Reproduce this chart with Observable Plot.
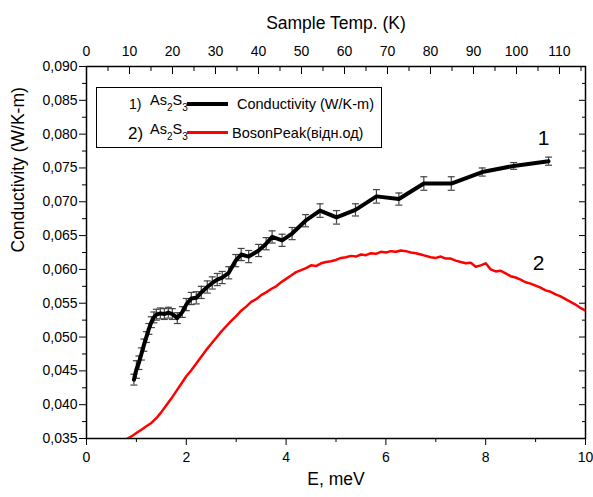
<!DOCTYPE html>
<html><head><meta charset="utf-8">
<script src="https://cdn.jsdelivr.net/npm/d3@7"></script>
<script src="https://cdn.jsdelivr.net/npm/@observablehq/plot@0.6"></script>
<style>
body{margin:0;background:#fff;}
#wrap{position:relative;width:593px;height:497px;font-family:"Liberation Sans",Arial,sans-serif;}
#legend{position:absolute;left:96px;top:87px;width:284px;height:59px;border:1px solid #000;background:#fff;}
.it{position:absolute;transform:translateY(-50%);line-height:1;white-space:nowrap;color:#000;}
.it sub{font-size:10px;vertical-align:-6px;}
.sw{position:absolute;left:90px;width:41px;}
</style></head><body><div id="wrap"></div>
<script>
// Curve 1: conductivity with error bars
const condE = [0.95,1.0,1.05,1.1,1.15,1.2,1.25,1.3,1.35,1.4,1.48,1.56,1.64,1.72,1.82,1.92,2.0,2.1,2.2,2.3,2.42,2.52,2.62,2.72,2.85,2.99,3.1,3.25,3.45,3.6,3.72,3.92,4.12,4.39,4.68,5.01,5.39,5.81,6.26,6.76,7.31,7.93,8.56,9.26];
const condY = [0.0437,0.0452,0.0462,0.0475,0.0488,0.0500,0.0512,0.0522,0.0529,0.0533,0.0535,0.0534,0.0536,0.0534,0.0528,0.0537,0.0548,0.0557,0.0558,0.0566,0.0574,0.0580,0.0585,0.0588,0.0595,0.0613,0.0622,0.0619,0.0628,0.0638,0.0648,0.0643,0.0653,0.0672,0.0687,0.0677,0.0688,0.0708,0.0704,0.0727,0.0727,0.0744,0.0753,0.0760];
const condErr = [0.0008,0.0013,0.0010,0.0009,0.0009,0.0008,0.0008,0.0008,0.0008,0.0008,0.0008,0.0008,0.0008,0.0008,0.0008,0.0008,0.0009,0.0009,0.0009,0.0009,0.0009,0.0009,0.0009,0.0009,0.0009,0.0009,0.0009,0.0009,0.0009,0.0009,0.0009,0.0009,0.0009,0.0009,0.0010,0.0010,0.0009,0.0010,0.0009,0.0010,0.0010,0.0006,0.0005,0.0006];
// Curve 2: boson peak
const bosonE = [0.82,0.9,1.0,1.1,1.2,1.3,1.4,1.5,1.6,1.7,1.8,1.9,2.0,2.1,2.2,2.3,2.4,2.5,2.6,2.7,2.8,2.9,3.0,3.1,3.2,3.3,3.4,3.5,3.6,3.7,3.8,3.9,4.0,4.1,4.2,4.3,4.4,4.5,4.6,4.7,4.8,4.9,5.0,5.1,5.2,5.3,5.4,5.5,5.6,5.7,5.8,5.9,6.0,6.1,6.2,6.3,6.4,6.5,6.6,6.7,6.8,6.9,7.0,7.1,7.2,7.3,7.4,7.5,7.6,7.7,7.8,7.9,8.0,8.1,8.2,8.3,8.4,8.5,8.6,8.7,8.8,8.9,9.0,9.1,9.2,9.3,9.4,9.5,9.6,9.7,9.8,9.9,10.0];
const bosonY = [0.0350,0.0353,0.0358,0.0363,0.0368,0.0373,0.0380,0.0389,0.0399,0.0409,0.0420,0.0431,0.0442,0.0451,0.0461,0.0471,0.0481,0.0490,0.0499,0.0508,0.0516,0.0524,0.0531,0.0539,0.0545,0.0552,0.0556,0.0562,0.0566,0.0571,0.0575,0.0581,0.0586,0.0591,0.0596,0.0599,0.0602,0.0606,0.0605,0.0609,0.0611,0.0612,0.0614,0.0617,0.0618,0.0620,0.0619,0.0622,0.0621,0.0624,0.0623,0.0626,0.0625,0.0627,0.0626,0.0628,0.0627,0.0625,0.0624,0.0622,0.0620,0.0618,0.0617,0.0619,0.0616,0.0616,0.0613,0.0611,0.0609,0.0610,0.0604,0.0606,0.0609,0.0600,0.0597,0.0598,0.0594,0.0590,0.0588,0.0585,0.0581,0.0579,0.0576,0.0573,0.0569,0.0567,0.0563,0.0560,0.0556,0.0552,0.0548,0.0543,0.0539];
// Ticks
const xTicks = [0,2,4,6,8,10];
const xMinor = [1,3,5,7,9];
const tempTicks = [0,10,20,30,40,50,60,70,80,90,100,110];
const tempMinor = [5,15,25,35,45,55,65,75,85,95,105,115];
const yTicks = [0.035,0.040,0.045,0.050,0.055,0.060,0.065,0.070,0.075,0.080,0.085,0.090];
const yMinor = [0.0375,0.0425,0.0475,0.0525,0.0575,0.0625,0.0675,0.0725,0.0775,0.0825,0.0875];
const K_PER_MEV = 11.605;
// Curve labels
const curveLabels = ["1","2"];
const curveLabelE = [9.16,9.06];
const curveLabelY = [0.0794,0.0609];

const cond = condE.map((E,i)=>({E, y:condY[i], e:condErr[i]}));
const boson = bosonE.map((E,i)=>({E, y:bosonY[i]}));
const labels = curveLabels.map((t,i)=>({t, E:curveLabelE[i], y:curveLabelY[i]}));
const fmtY = d => d3.format(".3f")(d).replace(".", ",");
const cap = {draw(ctx, size){const h=Math.sqrt(size/Math.PI); ctx.moveTo(-h,0); ctx.lineTo(h,0);}};
const blank = () => "";

const chart = Plot.plot({
  width:593, height:497,
  marginLeft:86, marginRight:8, marginTop:66, marginBottom:59,
  x:{domain:[0,10]},
  y:{domain:[0.035,0.090]},
  style:{fontFamily:'"Liberation Sans",Arial,sans-serif', fontSize:"14px", color:"#000", background:"#fff", overflow:"visible"},
  marks:[
    // left axis
    Plot.axisY({anchor:"left", ticks:yTicks, tickSize:7, tickFormat:blank, label:null}),
    Plot.axisY({anchor:"left", ticks:yTicks, tickSize:0, tickPadding:9, tickFormat:fmtY, label:null, fontSize:14}),
    Plot.axisY({anchor:"left", ticks:yMinor, tickSize:4, tickFormat:blank, label:null}),
    // right axis (inward)
    Plot.axisY({anchor:"right", ticks:yTicks, tickSize:7, insetRight:7, tickFormat:blank, label:null}),
    Plot.axisY({anchor:"right", ticks:yMinor, tickSize:4, insetRight:4, tickFormat:blank, label:null}),
    // bottom axis
    Plot.axisX({anchor:"bottom", ticks:xTicks, tickSize:7, tickFormat:blank, label:null}),
    Plot.axisX({anchor:"bottom", ticks:xTicks, tickSize:0, tickPadding:14, tickFormat:d=>String(d), label:null, fontSize:14}),
    Plot.axisX({anchor:"bottom", ticks:xMinor, tickSize:4, tickFormat:blank, label:null}),
    // top axis (inward), Sample Temp in K
    Plot.axisX({anchor:"top", ticks:tempTicks.map(k=>k/K_PER_MEV), tickSize:7, insetTop:7, tickFormat:blank, label:null}),
    Plot.axisX({anchor:"top", ticks:tempTicks.map(k=>k/K_PER_MEV), tickSize:0, tickPadding:11, tickFormat:d=>String(Math.round(d*K_PER_MEV)), label:null, fontSize:14}),
    Plot.axisX({anchor:"top", ticks:tempMinor.map(k=>k/K_PER_MEV), tickSize:4, insetTop:4, tickFormat:blank, label:null}),
    Plot.frame({stroke:"#000", strokeWidth:1.5}),
    // titles
    Plot.text(["Sample Temp. (K)"], {text:d=>d, frameAnchor:"top", dy:-50, fontSize:17.5}),
    Plot.text(["E, meV"], {text:d=>d, frameAnchor:"bottom", dy:46, fontSize:17.5}),
    Plot.text(["Conductivity (W/K-m)"], {text:d=>d, frameAnchor:"left", dx:-68, rotate:-90, fontSize:17.5}),
    // data
    Plot.line(boson, {x:"E", y:"y", stroke:"#ff0000", strokeWidth:2.5, clip:true}),
    Plot.ruleX(cond, {x:"E", y1:d=>d.y-d.e, y2:d=>d.y+d.e, stroke:"#444", strokeWidth:1.2}),
    Plot.dot(cond, {x:"E", y:d=>d.y-d.e, symbol:cap, r:3.5, stroke:"#444", strokeWidth:1.2, fill:"none"}),
    Plot.dot(cond, {x:"E", y:d=>d.y+d.e, symbol:cap, r:3.5, stroke:"#444", strokeWidth:1.2, fill:"none"}),
    Plot.line(cond, {x:"E", y:"y", stroke:"#000", strokeWidth:4, strokeLinejoin:"round"}),
    Plot.text(labels, {x:"E", y:"y", text:"t", fontSize:21})
  ]
});
const wrap = document.getElementById("wrap");
wrap.appendChild(chart);
const legend = document.createElement("div");
legend.id = "legend";
legend.innerHTML = `
<span class="it" style="left:32px;top:16px;font-size:14px">1)&nbsp;</span>
<span class="it" style="left:53px;top:15px;font-size:14.5px">As<sub>2</sub>S<sub>3</sub></span>
<span class="sw" style="top:14px;height:4px;background:#000"></span>
<span class="it" style="left:140px;top:16px;font-size:14.5px">Conductivity (W/K-m)</span>
<span class="it" style="left:31px;top:45px;font-size:17px">2)</span>
<span class="it" style="left:53px;top:44px;font-size:14.5px">As<sub>2</sub>S<sub>3</sub></span>
<span class="sw" style="top:43px;height:2.5px;background:#ff0000"></span>
<span class="it" style="left:135px;top:45px;font-size:14.5px">BosonPeak(відн.од)</span>`;
wrap.appendChild(legend);
</script>
</body></html>
